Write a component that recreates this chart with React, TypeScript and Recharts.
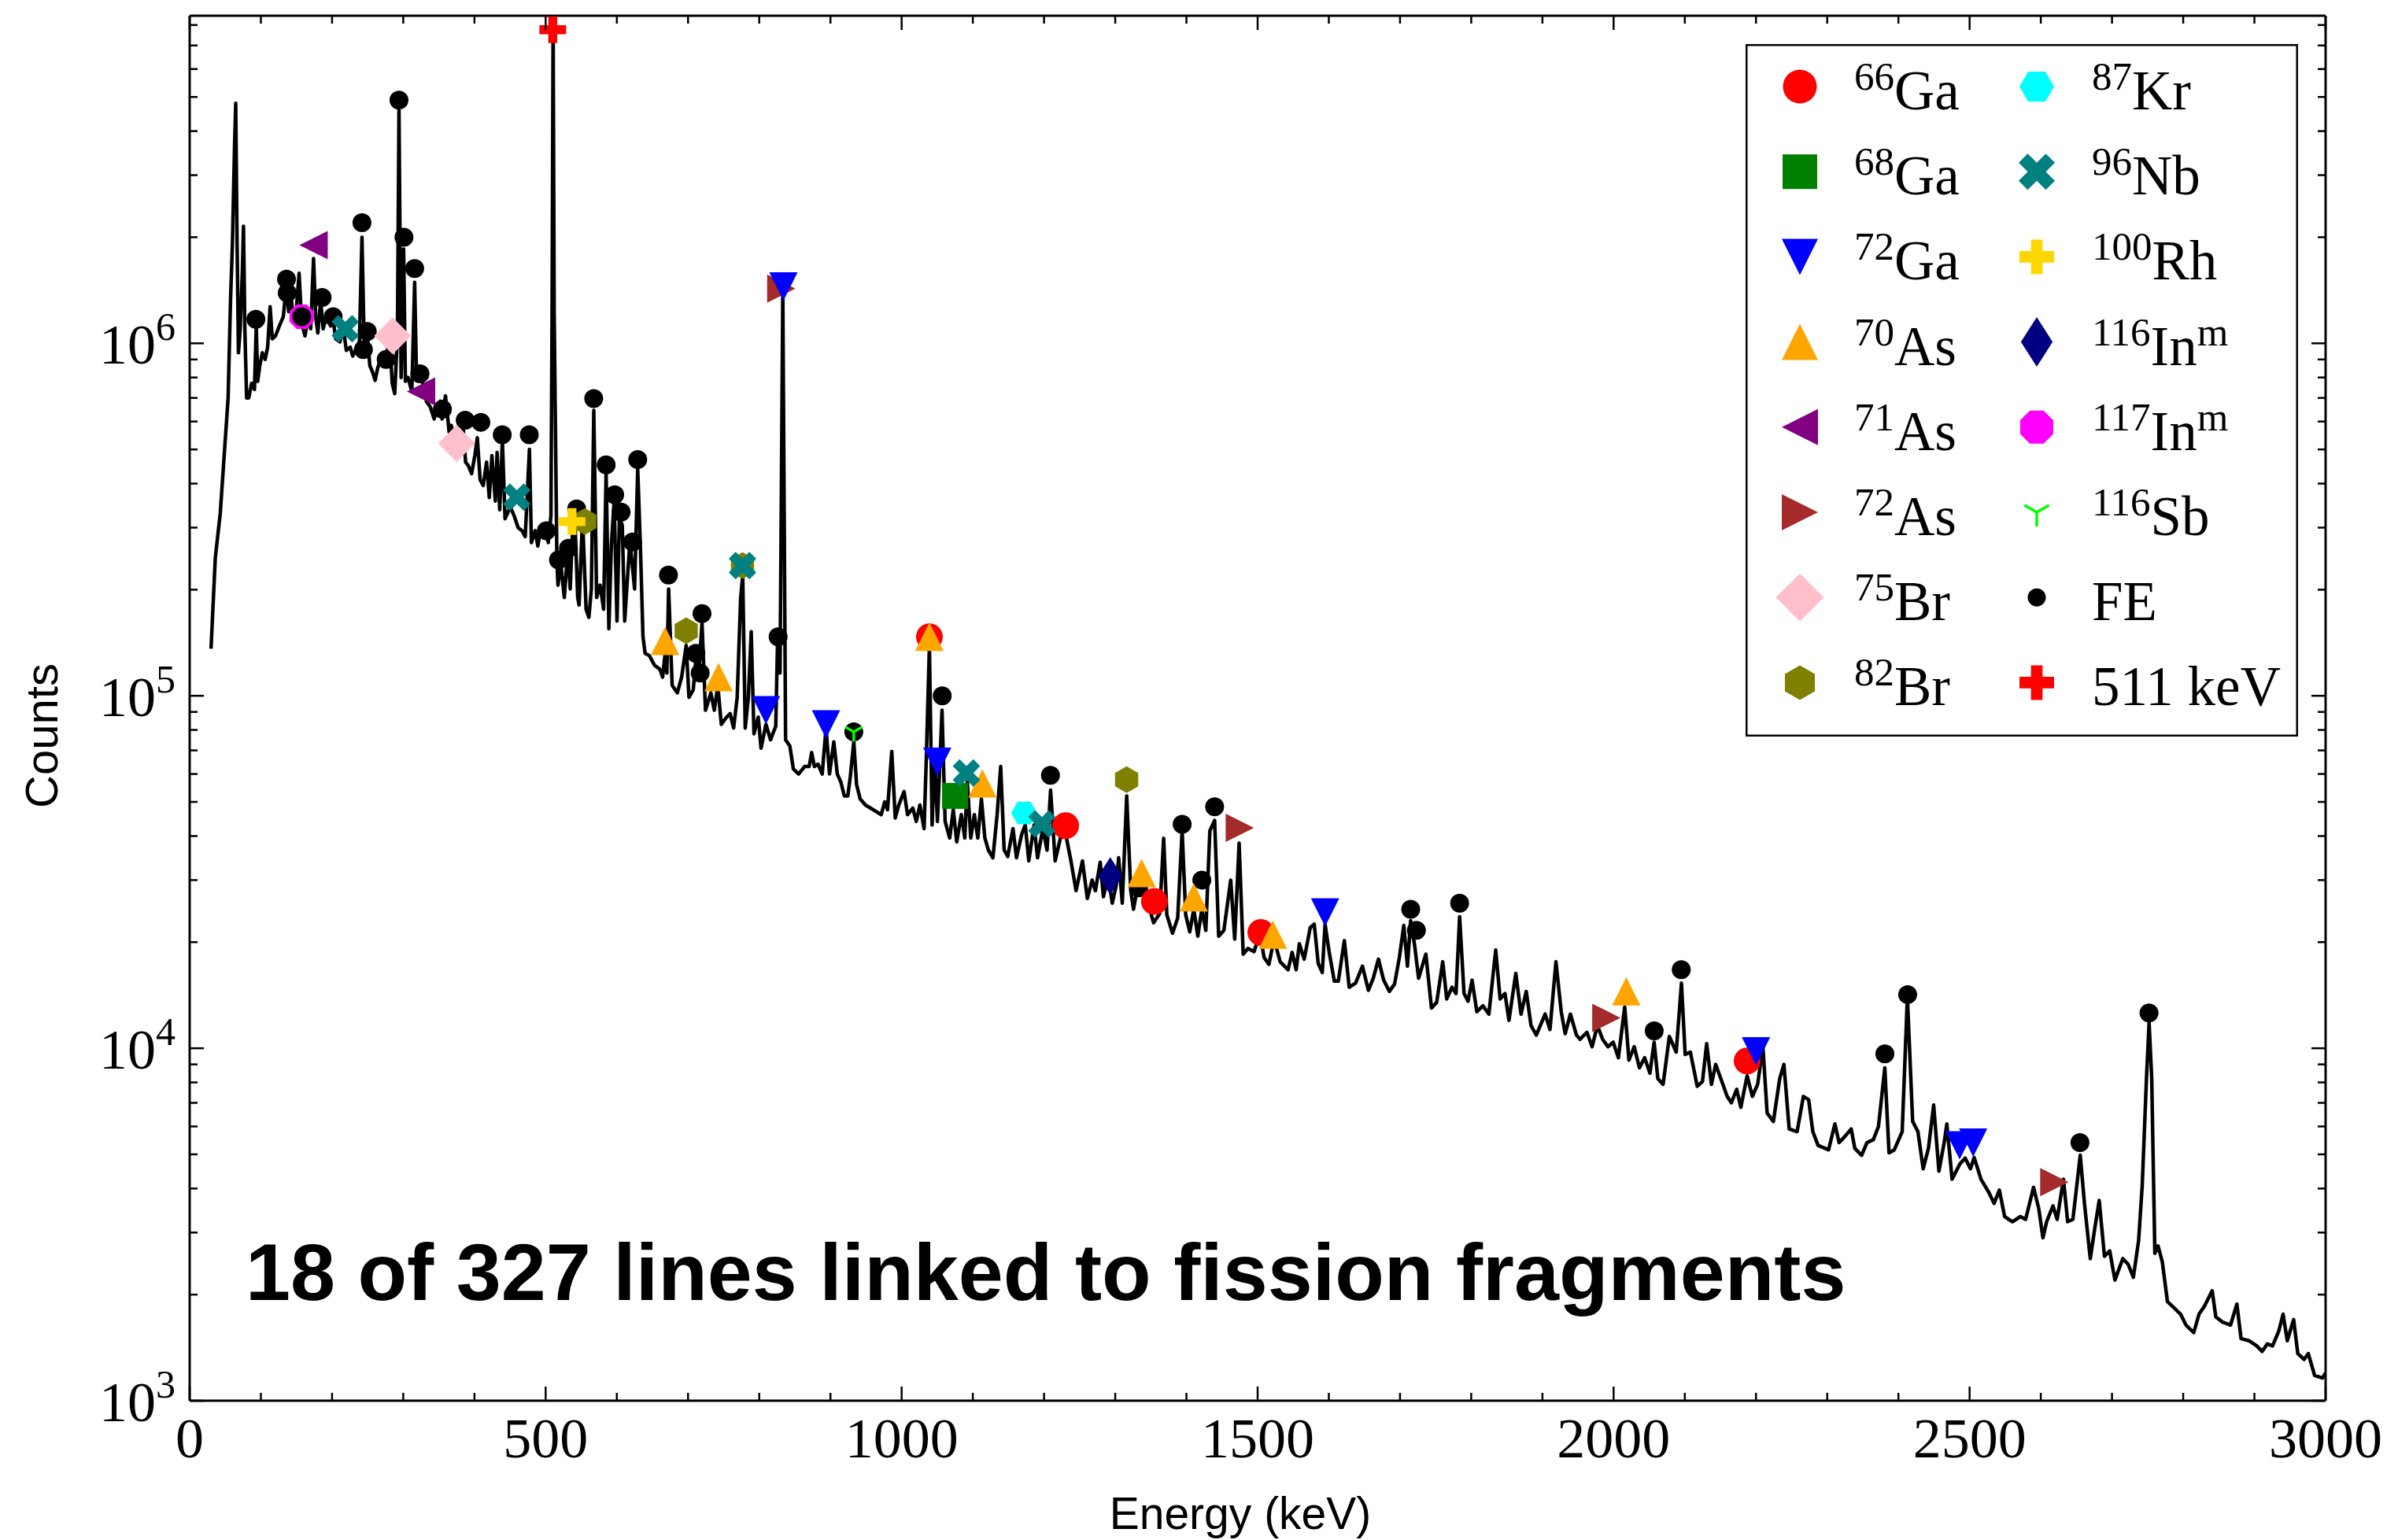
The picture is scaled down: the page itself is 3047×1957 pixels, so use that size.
import React from "react";
import { ComposedChart, Line, Scatter, XAxis, YAxis } from "recharts";

// spectrum: [energy keV, counts]
const spectrum: [number, number][] = [
  [30, 1.36e5], [36, 2.46e5], [43, 3.3e5], [54, 7.0e5], [57.5, 1.35e6], [60, 1.9e6], [63, 3.6e6],
  [64.7, 4.8e6], [66.5, 2.0e6], [68.5, 9.4e5], [71, 1.1e6], [74, 1.6e6], [75.6, 2.15e6], [77.5, 1.1e6],
  [80, 7.0e5], [83, 7.0e5], [87, 7.7e5], [91, 7.4e5], [93.5, 1.12e6], [95.5, 7.8e5], [98.5, 8.65e5],
  [102, 9.4e5], [106, 9.0e5], [109.5, 9.75e5], [113, 1.27e6], [116, 1.03e6], [120.5, 1.05e6], [126, 1.12e6],
  [131.5, 1.19e6], [136, 1.47e6], [139, 1.23e6], [142.5, 1.36e6], [146, 1.14e6], [150, 1.26e6], [153.7, 1.58e6],
  [157.3, 1.14e6], [162, 1.05e6], [166.5, 1.19e6], [170, 1.1e6], [174, 1.74e6], [177, 1.19e6], [180, 1.07e6],
  [184, 1.32e6], [187.5, 1.1e6], [192, 1.19e6], [198, 1.12e6], [201.6, 1.17e6], [205, 1.03e6], [211, 1.01e6],
  [216, 1.1e6], [220, 9.55e5], [225.5, 9.75e5], [229, 9.2e5], [234.7, 9.75e5], [238.4, 1.01e6], [242, 2.0e6],
  [245, 1.03e6], [249.4, 1.07e6], [253, 8.65e5], [256.8, 8.3e5], [260.5, 7.85e5], [264, 8.5e5], [269.7, 9.2e5],
  [275, 8.8e5], [280.8, 1.05e6], [284.5, 7.7e5], [288, 7.2e5], [291.8, 1.05e6], [294, 4.6e6], [297, 8.0e5],
  [300.5, 1.85e6], [303, 7.8e5], [306.6, 8.0e5], [312, 7.3e5], [316, 1.49e6], [318.7, 7.85e5], [321.3, 8.0e5],
  [325, 8.2e5], [328.7, 7.4e5], [332.4, 6.85e5], [338, 6.6e5], [343.4, 6.1e5], [348.2, 6.6e5], [352, 6.85e5],
  [354.5, 6.1e5], [359.3, 7.1e5], [362, 6.3e5], [364.4, 5.6e5], [367.4, 5.85e5], [371, 5.4e5], [374.7, 5.1e5],
  [380.3, 4.9e5], [384, 5.85e5], [387.6, 4.6e5], [391.3, 4.5e5], [396, 4.27e5], [400.5, 4.8e5], [404, 5.4e5],
  [408, 4.1e5], [412.3, 3.95e5], [417, 4.6e5], [420.8, 3.65e5], [424.5, 4.8e5], [429.3, 3.57e5], [431.8, 4.9e5],
  [435.5, 3.37e5], [439.2, 5.3e5], [443, 3.18e5], [446.6, 3.3e5], [450.3, 3.44e5], [455.8, 3.24e5], [461.3, 3.0e5],
  [466.8, 2.94e5], [471.3, 2.83e5], [477.2, 5.0e5], [480, 2.72e5], [485.3, 2.94e5], [489, 2.66e5], [492.6, 2.94e5],
  [498.2, 3.05e5], [503.7, 2.72e5], [507.4, 3.24e5], [509, 1.2e6], [510.5, 8.4e6], [512, 1.2e6], [515.8, 2.42e5],
  [517.3, 2.06e5], [521.2, 2.38e5], [526.2, 1.9e5], [531.1, 2.6e5], [534.5, 2.01e5], [538, 3.05e5], [541, 3.2e5],
  [545, 1.9e5], [547, 1.81e5], [551.8, 3.2e5], [556.8, 1.76e5], [560.7, 1.67e5], [564.2, 2.01e5], [567.6, 6.45e5],
  [571.6, 1.9e5], [576.5, 2.06e5], [581.4, 1.76e5], [584.9, 4.3e5], [588.8, 1.55e5], [592.3, 2.68e5], [596.2, 3.57e5],
  [600.2, 1.63e5], [603.6, 3.2e5], [607.6, 3.05e5], [611, 1.63e5], [615, 2.17e5], [618.4, 2.75e5], [624.9, 2.01e5],
  [629.3, 4.4e5], [633.2, 2.6e5], [636.7, 1.47e5], [639.7, 1.32e5], [645.6, 1.3e5], [653, 1.22e5], [660.4, 1.19e5],
  [664.3, 1.13e5], [667.8, 1.32e5], [670.3, 1.16e5], [672.7, 2.01e5], [677.7, 1.07e5], [685, 1.02e5], [691, 1.13e5],
  [697.4, 1.39e5], [701.3, 9.9e4], [707.3, 1.04e5], [710.7, 1.25e5], [714.7, 1.13e5], [719.6, 1.61e5], [724.5, 9.1e4],
  [732, 1.02e5], [736.9, 9.1e4], [741.8, 1.07e5], [746.7, 8.3e4], [754.2, 8.7e4], [759.1, 8.9e4], [764, 8.1e4],
  [769, 9.9e4], [773.9, 1.9e5], [776.8, 2.2e5], [780.3, 8.1e4], [784.7, 9.9e4], [788.7, 1.52e5], [792.6, 7.8e4],
  [798.6, 8.7e4], [802.5, 7.1e4], [809.4, 8.3e4], [815.8, 7.5e4], [823.2, 8.2e4], [825.7, 1.43e5], [829.2, 1.16e5],
  [833.1, 1.41e6], [837, 7.5e4], [843, 7.2e4], [847.9, 6.2e4], [855.3, 6.0e4], [863.7, 6.3e4], [870.1, 6.3e4],
  [873.6, 6.9e4], [877.5, 6.3e4], [882.5, 6.4e4], [888.4, 6.0e4], [893.8, 8.1e4], [898.7, 6.0e4], [904.7, 7.4e4],
  [909.6, 6.0e4], [914.5, 5.7e4], [919.5, 5.2e4], [924.4, 5.2e4], [927.9, 5.9e4], [932.8, 7.4e4], [936.7, 5.6e4],
  [941.7, 5.1e4], [949.1, 4.9e4], [956.5, 4.8e4], [963.9, 4.7e4], [971.3, 4.6e4], [976.2, 5.0e4], [980.2, 4.75e4],
  [986.1, 6.95e4], [991, 4.5e4], [996, 4.9e4], [1003.4, 5.35e4], [1008.3, 4.6e4], [1015.7, 4.8e4], [1020.6, 4.4e4],
  [1025.6, 4.9e4], [1031.5, 4.2e4], [1034.5, 6.5e4], [1039, 1.39e5], [1042.8, 4.3e4], [1046.3, 6.7e4], [1050.3, 4.4e4],
  [1056.7, 9.1e4], [1061.1, 4.4e4], [1067.5, 3.95e4], [1072.5, 4.75e4], [1077.4, 3.85e4], [1083.8, 4.6e4], [1088.7, 3.95e4],
  [1092.2, 5.7e4], [1097.1, 3.95e4], [1102.1, 4.6e4], [1107, 3.95e4], [1112, 5.1e4], [1116.9, 3.95e4], [1121.8, 3.65e4],
  [1128.2, 3.47e4], [1134.1, 4.6e4], [1139.1, 6.3e4], [1144, 3.65e4], [1149, 3.5e4], [1156.4, 4.2e4], [1161.3, 3.47e4],
  [1168.7, 4.05e4], [1173.6, 4.3e4], [1178.6, 3.4e4], [1186, 4.3e4], [1190.9, 3.47e4], [1198.3, 4.2e4], [1204.2, 3.65e4],
  [1209.2, 5.4e4], [1215.6, 3.4e4], [1223, 3.95e4], [1230.4, 4.05e4], [1237.8, 3.4e4],
  [1245, 2.8e4], [1254, 3.4e4], [1260.8, 2.66e4], [1267.6, 3.0e4], [1272.1, 2.8e4], [1278.9, 3.37e4], [1283.4, 2.69e4],
  [1290.2, 3.08e4], [1295.8, 2.58e4], [1301.4, 2.9e4], [1304.8, 3.47e4], [1309.9, 2.58e4], [1316.1, 5.2e4], [1321.8, 2.8e4],
  [1325.7, 2.48e4], [1333, 3.0e4], [1339.8, 2.8e4], [1348.3, 2.48e4], [1353.9, 2.27e4], [1362.4, 2.41e4], [1368, 3.94e4],
  [1372.5, 2.39e4], [1380.4, 2.12e4], [1387.7, 2.34e4], [1394, 4.14e4], [1399, 2.39e4], [1404.7, 2.14e4], [1410.3, 2.48e4],
  [1416, 2.08e4], [1421.6, 2.48e4], [1427.2, 2.16e4], [1432.9, 4.14e4], [1439.6, 4.43e4], [1445.3, 2.08e4], [1452.6, 2.16e4],
  [1462.2, 3.0e4], [1467.8, 2.04e4], [1474, 3.82e4], [1479.7, 1.85e4], [1486.4, 1.92e4], [1494.9, 1.88e4], [1503.4, 2.12e4],
  [1509, 1.81e4], [1515.8, 1.73e4], [1523.1, 2.04e4], [1531.6, 1.76e4], [1542.8, 1.67e4], [1548.5, 1.87e4], [1554.1, 1.67e4],
  [1558.6, 1.98e4], [1565.4, 1.79e4], [1573.9, 2.2e4], [1579.5, 2.25e4], [1585.1, 1.74e4], [1590.8, 1.64e4], [1594.7, 2.25e4],
  [1600.4, 1.88e4], [1607.7, 1.55e4], [1613.3, 1.55e4], [1621.8, 2.02e4], [1628.6, 1.49e4], [1637.6, 1.53e4], [1647.2, 1.71e4],
  [1655.6, 1.46e4], [1662.4, 1.58e4], [1669.7, 1.79e4], [1677, 1.56e4], [1685, 1.45e4], [1692.3, 1.52e4], [1699.1, 1.81e4],
  [1705.3, 2.23e4], [1710.4, 1.71e4], [1714.9, 2.3e4], [1720.5, 1.96e4], [1726.1, 1.58e4], [1736.3, 1.85e4], [1744.2, 1.3e4],
  [1751.5, 1.35e4], [1760, 1.76e4], [1765.6, 1.38e4], [1773, 1.49e4], [1778.6, 1.43e4], [1783.7, 2.36e4], [1789.9, 1.43e4],
  [1795.5, 1.36e4], [1801.2, 1.56e4], [1807.9, 1.27e4], [1816.4, 1.32e4], [1824.8, 1.25e4], [1834.4, 1.9e4], [1840.6, 1.38e4],
  [1847.4, 1.43e4], [1853, 1.2e4], [1862.6, 1.63e4], [1870, 1.25e4], [1877.3, 1.45e4], [1884, 1.16e4], [1891.4, 1.09e4],
  [1903.8, 1.25e4], [1910.6, 1.13e4], [1919, 1.76e4], [1926.4, 1.27e4], [1932, 1.1e4], [1939.3, 1.25e4], [1947.8, 1.09e4],
  [1952.9, 1.06e4], [1962.5, 1.11e4], [1969.8, 1.01e4], [1977.2, 1.16e4], [1984.6, 1.06e4], [1992, 1.01e4], [1999.4, 1.04e4],
  [2006.7, 9.4e3], [2015.6, 1.31e4], [2021.5, 9.25e3], [2028.9, 1.01e4], [2036.3, 8.8e3], [2043.6, 9.4e3], [2051, 8.5e3],
  [2056.9, 1.04e4], [2062.1, 8.2e3], [2069.5, 7.9e3], [2078.3, 1.08e4], [2087.9, 9.75e3], [2095.3, 1.53e4], [2100.5, 9.6e3],
  [2107.8, 9.75e3], [2117.4, 7.8e3], [2124.8, 8.05e3], [2130.7, 1.03e4], [2137.4, 7.9e3], [2143.3, 9.0e3], [2150.6, 8.2e3],
  [2159.5, 7.3e3], [2165.4, 7.0e3], [2172.8, 7.65e3], [2178.7, 6.8e3], [2187.5, 8.35e3], [2194.9, 7.3e3], [2202.3, 7.9e3],
  [2209.7, 1.01e4], [2215.6, 6.55e3], [2224.4, 6.2e3], [2233.3, 8.2e3], [2239.2, 9.0e3], [2246.6, 5.9e3], [2257.7, 5.8e3],
  [2266.5, 7.3e3], [2273.9, 7.15e3], [2279.8, 5.8e3], [2287.2, 5.3e3], [2301.9, 5.15e3], [2310.8, 6.1e3], [2316.7, 5.4e3],
  [2324.1, 5.6e3], [2333.7, 5.9e3], [2338.8, 5.2e3], [2348.4, 4.97e3], [2355.8, 5.4e3], [2364.7, 5.5e3], [2372, 6.0e3],
  [2380.9, 8.8e3], [2386.8, 5.05e3], [2394.2, 5.15e3], [2405.3, 5.8e3], [2412.6, 1.4e4], [2420, 6.2e3], [2427.4, 5.8e3],
  [2434.8, 4.55e3], [2442.2, 5.2e3], [2449.5, 6.9e3], [2456.9, 4.48e3], [2464.3, 5.4e3], [2468, 6.1e3], [2475.4, 4.25e3],
  [2486.4, 4.7e3], [2493.8, 4.88e3], [2501.2, 4.55e3], [2506.4, 4.9e3], [2516, 4.25e3], [2527, 3.9e3], [2534.4, 3.63e3],
  [2541.8, 3.96e3], [2549.2, 3.33e3], [2560.2, 3.22e3], [2571.3, 3.33e3], [2578.7, 3.27e3], [2589.8, 4.03e3], [2597.1, 3.51e3],
  [2603, 2.9e3], [2608.2, 3.22e3], [2617.1, 3.57e3], [2623, 3.27e3], [2631.8, 4.25e3], [2637.7, 3.22e3], [2645.1, 3.27e3],
  [2655.4, 4.97e3], [2661.3, 3.63e3], [2669.5, 2.53e3], [2676.1, 3.11e3], [2682, 3.7e3], [2689.4, 2.57e3], [2696.8, 2.66e3],
  [2704.1, 2.2e3], [2715.2, 2.53e3], [2722.6, 2.44e3], [2730, 2.24e3], [2737.4, 2.85e3], [2742.5, 4.1e3], [2748.4, 8.2e3],
  [2752.1, 1.18e4], [2755.8, 8.2e3], [2760.2, 2.62e3], [2764.7, 2.75e3], [2770.6, 2.48e3], [2777.9, 1.91e3], [2785.3, 1.85e3],
  [2796.4, 1.76e3], [2803.8, 1.64e3], [2814.8, 1.56e3], [2822.2, 1.76e3], [2829.6, 1.85e3], [2840.7, 2.05e3], [2845.8, 1.73e3],
  [2855.4, 1.67e3], [2866.5, 1.64e3], [2875.4, 1.88e3], [2881.3, 1.5e3], [2892.3, 1.48e3], [2903.4, 1.43e3], [2910.8, 1.38e3],
  [2918.2, 1.45e3], [2925.5, 1.43e3], [2934.4, 1.58e3], [2940.3, 1.76e3], [2946.2, 1.48e3], [2955.1, 1.7e3], [2961, 1.36e3],
  [2969.8, 1.31e3], [2975.7, 1.36e3], [2984.6, 1.18e3], [2995.7, 1.16e3], [3000, 1.2e3],
];

// identified lines: [energy keV, counts at marker]
const ga66: [number, number][] = [[1039, 1.47e5], [1230.4, 4.28e4], [1355, 2.61e4], [1504.5, 2.13e4], [2187.5, 9.2e3]];
const ga68: [number, number][] = [[1075, 5.2e4]];
const ga72: [number, number][] = [[834, 1.45e6], [809.4, 9.1e4], [893.8, 8.3e4], [1050, 6.5e4], [1594.7, 2.43e4], [2200, 9.8e3], [2486, 5.3e3], [2505, 5.4e3]];
const as70: [number, number][] = [[667.8, 1.43e5], [742.8, 1.13e5], [1039, 1.47e5], [1113.4, 5.64e4], [1337, 3.14e4], [1410.3, 2.68e4], [1521.4, 2.1e4], [2017.8, 1.45e4]];
const as71: [number, number][] = [[174, 1.9e6], [325, 7.3e5]];
const as72: [number, number][] = [[831, 1.43e6], [1475, 4.22e4], [1989.8, 1.22e4], [2619, 4.17e3]];
const br75: [number, number][] = [[285, 1.05e6], [375, 5.2e5]];
const br82: [number, number][] = [[555, 3.12e5], [697.4, 1.53e5], [776.5, 2.34e5], [1316, 5.78e4]];
const kr87: [number, number][] = [[1172, 4.65e4]];
const nb96: [number, number][] = [[218.5, 1.1e6], [459.5, 3.66e5], [776.5, 2.34e5], [1091, 6.04e4], [1197, 4.33e4]];
const rh100: [number, number][] = [[537, 3.12e5]];
const in116m: [number, number][] = [[1293, 3.08e4]];
const in117m: [number, number][] = [[157.3, 1.19e6]];
const sb116: [number, number][] = [[932.8, 7.9e4]];
const fe: [number, number][] = [
  [93, 1.17e6], [136, 1.52e6], [137, 1.39e6], [157.3, 1.19e6], [186, 1.35e6], [201.5, 1.19e6], [242, 2.2e6],
  [244, 9.6e5], [249.5, 1.08e6], [276, 9.0e5], [294, 4.9e6], [301, 2.0e6], [316, 1.63e6], [323.5, 8.2e5],
  [355, 6.5e5], [387, 6.05e5], [409, 5.97e5], [439, 5.5e5], [477, 5.5e5], [501, 2.94e5], [518, 2.43e5],
  [532, 2.62e5], [543.5, 3.39e5], [567.5, 6.97e5], [585, 4.52e5], [597, 3.72e5], [606, 3.32e5], [622, 2.73e5],
  [629.3, 4.68e5], [672.5, 2.2e5], [711, 1.32e5], [717, 1.16e5], [719.6, 1.71e5], [826.5, 1.47e5], [932.8, 7.9e4],
  [1057, 1.0e5], [1209, 5.95e4], [1333, 2.85e4], [1394, 4.32e4], [1421.6, 3.0e4], [1439.6, 4.84e4], [1715, 2.48e4],
  [1723, 2.16e4], [1783.7, 2.58e4], [2057, 1.12e4], [2095, 1.67e4], [2381, 9.64e3], [2413, 1.42e4], [2655, 5.4e3],
  [2752, 1.26e4],
];
const ann511: [number, number][] = [[510, 7.76e6]];

const xTicks = [0, 100, 200, 300, 400, 500, 600, 700, 800, 900, 1000, 1100, 1200, 1300, 1400, 1500, 1600, 1700, 1800, 1900, 2000, 2100, 2200, 2300, 2400, 2500, 2600, 2700, 2800, 2900, 3000];
const yTicks = [
  1e3, 2e3, 3e3, 4e3, 5e3, 6e3, 7e3, 8e3, 9e3,
  1e4, 2e4, 3e4, 4e4, 5e4, 6e4, 7e4, 8e4, 9e4,
  1e5, 2e5, 3e5, 4e5, 5e5, 6e5, 7e5, 8e5, 9e5,
  1e6, 2e6, 3e6, 4e6, 5e6, 6e6, 7e6, 8e6,
];

const SERIF = "'Liberation Serif', 'DejaVu Serif', serif";
const SANS = "'Liberation Sans', Arial, Helvetica, sans-serif";

type Kind = "o" | "s" | "v" | "^" | "<" | ">" | "D" | "d" | "h" | "H" | "X" | "P" | "8" | "1" | ".";

interface SeriesDef {
  id: string;
  sup?: string;
  main: string;
  post?: string;
  data: [number, number][];
  kind: Kind;
  color: string;
  size: number;
  legendSize: number;
}

const S: Record<string, SeriesDef> = {
  ga66: { id: "ga66", sup: "66", main: "Ga", data: ga66, kind: "o", color: "#ff0000", size: 34, legendSize: 43 },
  ga68: { id: "ga68", sup: "68", main: "Ga", data: ga68, kind: "s", color: "#008000", size: 33, legendSize: 44 },
  ga72: { id: "ga72", sup: "72", main: "Ga", data: ga72, kind: "v", color: "#0000ff", size: 36, legendSize: 46 },
  as70: { id: "as70", sup: "70", main: "As", data: as70, kind: "^", color: "#ffa500", size: 36, legendSize: 46 },
  as71: { id: "as71", sup: "71", main: "As", data: as71, kind: "<", color: "#800080", size: 36, legendSize: 46 },
  as72: { id: "as72", sup: "72", main: "As", data: as72, kind: ">", color: "#a52a2a", size: 36, legendSize: 46 },
  br75: { id: "br75", sup: "75", main: "Br", data: br75, kind: "D", color: "#ffc0cb", size: 47, legendSize: 61 },
  br82: { id: "br82", sup: "82", main: "Br", data: br82, kind: "h", color: "#808000", size: 34, legendSize: 44 },
  kr87: { id: "kr87", sup: "87", main: "Kr", data: kr87, kind: "H", color: "#00ffff", size: 33, legendSize: 44 },
  nb96: { id: "nb96", sup: "96", main: "Nb", data: nb96, kind: "X", color: "#008080", size: 35, legendSize: 46 },
  rh100: { id: "rh100", sup: "100", main: "Rh", data: rh100, kind: "P", color: "#ffd700", size: 34, legendSize: 44 },
  in116m: { id: "in116m", sup: "116", main: "In", post: "m", data: in116m, kind: "d", color: "#000080", size: 48, legendSize: 63 },
  in117m: { id: "in117m", sup: "117", main: "In", post: "m", data: in117m, kind: "8", color: "#ff00ff", size: 31, legendSize: 42 },
  sb116: { id: "sb116", sup: "116", main: "Sb", data: sb116, kind: "1", color: "#00ff00", size: 24, legendSize: 36 },
  fe: { id: "fe", main: "FE", data: fe, kind: ".", color: "#000000", size: 24, legendSize: 23 },
  k511: { id: "k511", main: "511 keV", data: ann511, kind: "P", color: "#ff0000", size: 34, legendSize: 44 },
};

// drawing order on the plot
const drawOrder = ["in117m", "fe", "ga66", "ga68", "as72", "ga72", "as70", "as71", "br75", "br82", "kr87", "nb96", "rh100", "in116m", "sb116", "k511"];
const legendCols = [
  ["ga66", "ga68", "ga72", "as70", "as71", "as72", "br75", "br82"],
  ["kr87", "nb96", "rh100", "in116m", "in117m", "sb116", "fe", "k511"],
];

const X_PATH = [[-1, -2], [0, -1], [1, -2], [2, -1], [1, 0], [2, 1], [1, 2], [0, 1], [-1, 2], [-2, 1], [-1, 0], [-2, -1]].map(([a, b]) => [a / 4, b / 4]);
const P_PATH = [[-1, -3], [1, -3], [1, -1], [3, -1], [3, 1], [1, 1], [1, 3], [-1, 3], [-1, 1], [-3, 1], [-3, -1], [-1, -1]].map(([a, b]) => [a / 6, b / 6]);

function poly(pts: number[][]) {
  return pts.map((p) => `${p[0].toFixed(2)},${p[1].toFixed(2)}`).join(" ");
}

function regular(cx: number, cy: number, r: number, n: number, startDeg: number) {
  const pts: number[][] = [];
  for (let i = 0; i < n; i++) {
    const a = ((startDeg + (360 / n) * i) * Math.PI) / 180;
    pts.push([cx + r * Math.cos(a), cy - r * Math.sin(a)]);
  }
  return poly(pts);
}

function Marker({ kind, cx, cy, size, color }: { kind: Kind; cx: number; cy: number; size: number; color: string }) {
  const r = size / 2;
  switch (kind) {
    case "o":
    case ".":
      return <circle cx={cx} cy={cy} r={r} fill={color} />;
    case "s":
      return <rect x={cx - r} y={cy - r} width={size} height={size} fill={color} />;
    case "v":
      return <polygon points={poly([[cx - r, cy - r], [cx + r, cy - r], [cx, cy + r]])} fill={color} />;
    case "^":
      return <polygon points={poly([[cx - r, cy + r], [cx + r, cy + r], [cx, cy - r]])} fill={color} />;
    case "<":
      return <polygon points={poly([[cx + r, cy - r], [cx + r, cy + r], [cx - r, cy]])} fill={color} />;
    case ">":
      return <polygon points={poly([[cx - r, cy - r], [cx - r, cy + r], [cx + r, cy]])} fill={color} />;
    case "D":
      return <polygon points={poly([[cx, cy - r], [cx + r, cy], [cx, cy + r], [cx - r, cy]])} fill={color} />;
    case "d":
      return <polygon points={poly([[cx, cy - r], [cx + 0.32 * size, cy], [cx, cy + r], [cx - 0.32 * size, cy]])} fill={color} />;
    case "h":
      return <polygon points={regular(cx, cy, r, 6, 90)} fill={color} />;
    case "H":
      return <polygon points={regular(cx, cy, r, 6, 0)} fill={color} />;
    case "8":
      return <polygon points={regular(cx, cy, r / Math.cos(Math.PI / 8), 8, 22.5)} fill={color} />;
    case "X":
      return <polygon points={poly(X_PATH.map(([a, b]) => [cx + a * size, cy + b * size]))} fill={color} />;
    case "P":
      return <polygon points={poly(P_PATH.map(([a, b]) => [cx + a * size, cy + b * size]))} fill={color} />;
    case "1":
      return (
        <g stroke={color} strokeWidth={3.5} fill="none">
          <line x1={cx} y1={cy} x2={cx} y2={cy + r} />
          <line x1={cx} y1={cy} x2={cx - r * 0.866} y2={cy - r * 0.5} />
          <line x1={cx} y1={cy} x2={cx + r * 0.866} y2={cy - r * 0.5} />
        </g>
      );
    default:
      return null;
  }
}

const isDecade = (v: number) => {
  const l = Math.log10(v);
  return Math.abs(l - Math.round(l)) < 1e-6;
};

function BottomTick(props: any) {
  const { x, y, payload } = props;
  const v = payload.value as number;
  const major = v % 500 === 0;
  return (
    <g>
      <line x1={x} x2={x} y1={y} y2={y - (major ? 18 : 10)} stroke="#000" strokeWidth={2.5} />
      {major && (
        <text x={x} y={y + 72} textAnchor="middle" fontFamily={SERIF} fontSize={72} fill="#000">
          {v}
        </text>
      )}
    </g>
  );
}

function TopTick(props: any) {
  const { x, y, payload } = props;
  const major = (payload.value as number) % 500 === 0;
  return <line x1={x} x2={x} y1={y} y2={y + (major ? 18 : 10)} stroke="#000" strokeWidth={2.5} />;
}

function LeftTick(props: any) {
  const { x, y, payload } = props;
  const v = payload.value as number;
  const major = isDecade(v);
  return (
    <g>
      <line x1={x} x2={x + (major ? 18 : 10)} y1={y} y2={y} stroke="#000" strokeWidth={2.5} />
      {major && (
        <text x={x - 18} y={y + 26} textAnchor="end" fontFamily={SERIF} fontSize={72} fill="#000">
          10
          <tspan fontSize={50} dy={-30}>
            {Math.round(Math.log10(v))}
          </tspan>
        </text>
      )}
    </g>
  );
}

function RightTick(props: any) {
  const { x, y, payload } = props;
  const major = isDecade(payload.value as number);
  return <line x1={x} x2={x - (major ? 18 : 10)} y1={y} y2={y} stroke="#000" strokeWidth={2.5} />;
}

const toPts = (arr: [number, number][]) => arr.map(([e, c]) => ({ e, c }));

function LegendBox() {
  const rowY = (i: number) => 54 + 108.2 * i;
  const colMarkerX = [69, 370];
  const colTextX = [138, 440];
  return (
    <svg
      width={702}
      height={880}
      style={{ position: "absolute", left: 2218, top: 56, overflow: "visible" }}
    >
      <rect x={1.25} y={1.25} width={699.5} height={877.5} fill="#fff" stroke="#000" strokeWidth={2.5} />
      {legendCols.map((col, ci) =>
        col.map((id, ri) => {
          const s = S[id];
          const cy = rowY(ri);
          return (
            <g key={id}>
              <Marker kind={s.kind} cx={colMarkerX[ci]} cy={cy} size={s.legendSize} color={s.color} />
              <text x={colTextX[ci]} y={cy + 29} fontFamily={SERIF} fontSize={71} fill="#000">
                {s.sup && (
                  <tspan fontSize={51} dy={-25}>
                    {s.sup}
                  </tspan>
                )}
                <tspan dy={s.sup ? 25 : 0}>{s.main}</tspan>
                {s.post && (
                  <tspan fontSize={51} dy={-25}>
                    {s.post}
                  </tspan>
                )}
              </text>
            </g>
          );
        })
      )}
    </svg>
  );
}

export default function App() {
  const spectrumPts = toPts(spectrum);
  return (
    <div style={{ position: "absolute", left: 0, top: 0, width: 3047, height: 1957, background: "#fff" }}>
      <ComposedChart width={3047} height={1957} margin={{ top: 10, right: 72, bottom: 77, left: 141 }}>
        <XAxis
          xAxisId="b"
          type="number"
          dataKey="e"
          domain={[0, 3000]}
          allowDataOverflow
          ticks={xTicks}
          interval={0}
          height={100}
          tickSize={0}
          tickMargin={0}
          tickLine={false}
          axisLine={{ stroke: "#000", strokeWidth: 3 }}
          tick={<BottomTick />}
        />
        <XAxis
          xAxisId="t"
          orientation="top"
          type="number"
          dataKey="e"
          domain={[0, 3000]}
          allowDataOverflow
          ticks={xTicks}
          interval={0}
          height={10}
          tickSize={0}
          tickMargin={0}
          tickLine={false}
          axisLine={{ stroke: "#000", strokeWidth: 3 }}
          tick={<TopTick />}
        />
        <YAxis
          yAxisId="l"
          type="number"
          dataKey="c"
          scale="log"
          domain={[1000, 8.5e6]}
          allowDataOverflow
          ticks={yTicks}
          interval={0}
          width={100}
          tickSize={0}
          tickMargin={0}
          tickLine={false}
          axisLine={{ stroke: "#000", strokeWidth: 3 }}
          tick={<LeftTick />}
        />
        <YAxis
          yAxisId="r"
          orientation="right"
          type="number"
          dataKey="c"
          scale="log"
          domain={[1000, 8.5e6]}
          allowDataOverflow
          ticks={yTicks}
          interval={0}
          width={20}
          tickSize={0}
          tickMargin={0}
          tickLine={false}
          axisLine={{ stroke: "#000", strokeWidth: 3 }}
          tick={<RightTick />}
        />
        <Line
          xAxisId="b"
          yAxisId="l"
          data={spectrumPts}
          dataKey="c"
          type="linear"
          stroke="#000"
          strokeWidth={4.5}
          strokeLinejoin="round"
          dot={false}
          activeDot={false}
          isAnimationActive={false}
        />
        {drawOrder.map((id) => {
          const s = S[id];
          return (
            <Scatter
              key={id}
              xAxisId="b"
              yAxisId="l"
              data={toPts(s.data)}
              dataKey="c"
              isAnimationActive={false}
              shape={(p: any) => <Marker kind={s.kind} cx={p.cx} cy={p.cy} size={s.size} color={s.color} />}
            />
          );
        })}
      </ComposedChart>
      <svg width={3047} height={1957} style={{ position: "absolute", left: 0, top: 0, pointerEvents: "none" }}>
        <text transform="translate(73,935) rotate(-90)" textAnchor="middle" fontFamily={SANS} fontSize={58} fill="#000">
          Counts
        </text>
        <text x={1576} y={1943} textAnchor="middle" fontFamily={SANS} fontSize={57} fill="#000">
          Energy (keV)
        </text>
        <text x={312} y={1652} fontFamily={SANS} fontSize={102.5} fontWeight="bold" fill="#000">
          18 of 327 lines linked to fission fragments
        </text>
      </svg>
      <LegendBox />
    </div>
  );
}
